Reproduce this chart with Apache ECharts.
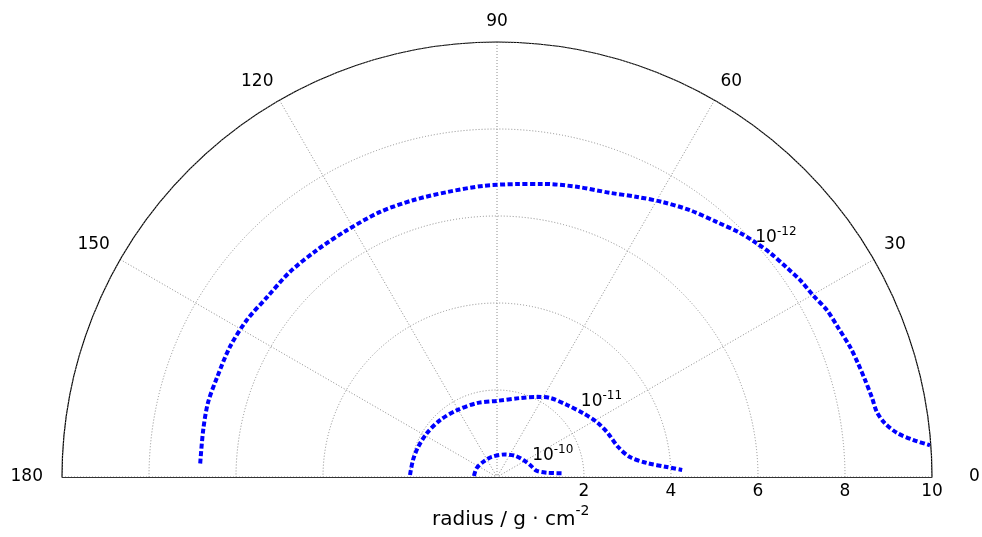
<!DOCTYPE html>
<html>
<head>
<meta charset="utf-8">
<script src="https://cdn.jsdelivr.net/npm/echarts@6/dist/echarts.min.js"></script>
<style>
  html, body { margin: 0; padding: 0; background: #ffffff; }
  #chart { width: 982px; height: 537px; }
</style>
</head>
<body>
<div id="chart"></div>
<script>
// Iso-lines in the half-plane, each point is [radius (g/cm^2), angle (deg)]
const contourE12 = [
  [6.83, 177.4], [6.84, 170.9], [6.86, 165.6], [6.83, 160.3], [6.83, 154.0],
  [6.79, 147.9], [6.71, 141.9], [6.70, 135.3], [6.66, 128.4], [6.64, 121.3],
  [6.66, 113.8], [6.65, 106.9], [6.65, 99.9], [6.70, 92.7], [6.75, 86.1],
  [6.82, 81.1], [6.92, 74.6], [7.03, 68.3], [7.20, 63.4], [7.38, 58.9],
  [7.57, 54.1], [7.74, 49.2], [7.92, 45.1], [8.02, 42.3], [8.12, 39.4],
  [8.22, 35.8], [8.31, 33.0], [8.38, 29.9], [8.50, 26.8], [8.56, 23.7],
  [8.65, 20.2], [8.70, 17.5], [8.75, 14.8], [8.81, 12.0], [8.86, 9.7],
  [9.00, 7.9], [9.25, 6.3], [9.60, 5.1], [9.98, 4.2]
];
const contourE11 = [
  [2.00, 178.7], [1.97, 168.6], [1.94, 159.2], [1.90, 147.8], [1.85, 135.0],
  [1.79, 120.8], [1.76, 105.1], [1.75, 90.0], [1.89, 73.8], [2.06, 63.4],
  [2.19, 56.1], [2.31, 45.8], [2.46, 36.7], [2.62, 28.8], [2.74, 21.6],
  [2.87, 13.9], [3.09, 8.55], [3.46, 5.33], [3.91, 3.37], [4.26, 2.17]
];
const contourE10 = [
  [0.53, 177.5], [0.51, 156.8], [0.47, 131.8], [0.48, 104.6], [0.55, 70.6],
  [0.64, 49.8], [0.72, 32.9], [0.81, 20.0], [0.92, 9.0], [1.15, 4.9], [1.49, 3.3]
];

// Level names: mantissa and exponent, plus where each tag sits [radius, angle]
const levelBase = ['10', '10', '10'];
const levelExp = ['-12', '-11', '-10'];
const levelTagPos = [[8.47, 40.8], [2.98, 36.3], [1.385, 22.3]];

const radiusTicks = [2, 4, 6, 8, 10];
const angleTicks = [0, 30, 60, 90, 120, 150, 180];
const axisName = 'radius / g \u00b7 cm';
const axisNameExp = '-2';

const FONT = 'DejaVu Sans';
const BLUE = '#0000ff';
const CENTER = [497, 477];
const RADIUS = 435;
const BASE_LINE = { color: '#333', width: 1 };

const chart = echarts.init(document.getElementById('chart'), null, { renderer: 'canvas' });

const contourStyle = {
  type: 'line',
  coordinateSystem: 'polar',
  polarIndex: 0,
  symbol: 'none',
  smooth: 0.3,
  silent: true,
  z: 5,
  lineStyle: { color: BLUE, width: 4, type: [5, 2.5], cap: 'butt' }
};

const tagRich = {
  b: { fontFamily: FONT, fontSize: 17, fill: '#000', verticalAlign: 'bottom', lineHeight: 20 },
  s: { fontFamily: FONT, fontSize: 12, fill: '#000', verticalAlign: 'top', lineHeight: 20 }
};

const option = {
  backgroundColor: '#ffffff',
  animation: false,
  title: {
    text: '{a|' + axisName + '}{s|' + axisNameExp + '}',
    left: 432,
    top: 504,
    padding: 0,
    textStyle: {
      fontWeight: 'normal',
      rich: {
        a: { fontFamily: FONT, fontSize: 20, fontWeight: 'normal', color: '#000', verticalAlign: 'bottom', lineHeight: 26 },
        s: { fontFamily: FONT, fontSize: 14, fontWeight: 'normal', color: '#000', verticalAlign: 'top', lineHeight: 26 }
      }
    }
  },
  // main half-disc, plus a mirrored frame whose radius axis runs to the left (180 deg)
  polar: [
    { center: CENTER, radius: RADIUS },
    { center: CENTER, radius: RADIUS }
  ],
  angleAxis: [
    {
      polarIndex: 0,
      type: 'value',
      min: 0,
      max: 180,
      interval: 30,
      startAngle: 0,
      endAngle: 180,
      clockwise: false,
      axisLine: { show: true, lineStyle: { color: '#000', width: 1.2 } },
      axisTick: { show: false },
      axisLabel: {
        margin: 12,
        fontFamily: FONT,
        fontSize: 17,
        color: '#000',
        formatter: v => angleTicks.indexOf(v) >= 0 ? (v === 0 ? '{r|0}' : v === 180 ? '{l|180}' : String(v)) : '',
        rich: {
          r: { fontFamily: FONT, fontSize: 17, color: '#000', padding: [0, 0, 0, 25] },
          l: { fontFamily: FONT, fontSize: 17, color: '#000', padding: [0, 7, 0, 0] }
        }
      },
      splitLine: { show: true, lineStyle: { color: '#8c8c8c', width: 1, type: [1, 2] } }
    },
    {
      polarIndex: 1,
      type: 'value',
      min: 0,
      max: 180,
      interval: 30,
      startAngle: 180,
      endAngle: 0,
      clockwise: true,
      axisLine: { show: false },
      axisTick: { show: false },
      axisLabel: { show: false },
      splitLine: { show: false }
    }
  ],
  radiusAxis: [
    {
      polarIndex: 0,
      type: 'value',
      min: 0,
      max: 10,
      interval: 2,
      z: 3,
      axisLine: { show: true, lineStyle: BASE_LINE },
      axisTick: { show: false },
      axisLabel: {
        margin: -6,
        verticalAlign: 'top',
        fontFamily: FONT,
        fontSize: 17,
        color: '#000',
        formatter: v => radiusTicks.indexOf(v) >= 0 ? String(v) : ''
      },
      splitLine: { show: true, lineStyle: { color: '#8c8c8c', width: 1, type: [1, 2] } }
    },
    {
      polarIndex: 1,
      type: 'value',
      min: 0,
      max: 10,
      interval: 2,
      z: 3,
      axisLine: { show: true, lineStyle: BASE_LINE },
      axisTick: { show: false },
      axisLabel: { show: false },
      splitLine: { show: false }
    }
  ],
  series: [
    Object.assign({ name: levelExp[0], data: contourE12 }, contourStyle),
    Object.assign({ name: levelExp[1], data: contourE11 }, contourStyle),
    Object.assign({ name: levelExp[2], data: contourE10 }, contourStyle),
    // level tags
    {
      type: 'custom',
      coordinateSystem: 'polar',
      polarIndex: 0,
      silent: true,
      z: 6,
      clip: false,
      data: levelTagPos,
      renderItem: (params, api) => {
        const i = params.dataIndex;
        const p = api.coord([api.value(0), api.value(1)]);
        return {
          type: 'text',
          x: p[0],
          y: p[1],
          style: {
            text: '{b|' + levelBase[i] + '}{s|' + levelExp[i] + '}',
            rich: tagRich,
            fill: '#000',
            align: 'center',
            verticalAlign: 'middle'
          }
        };
      }
    }
  ]
};

chart.setOption(option);
</script>
</body>
</html>
